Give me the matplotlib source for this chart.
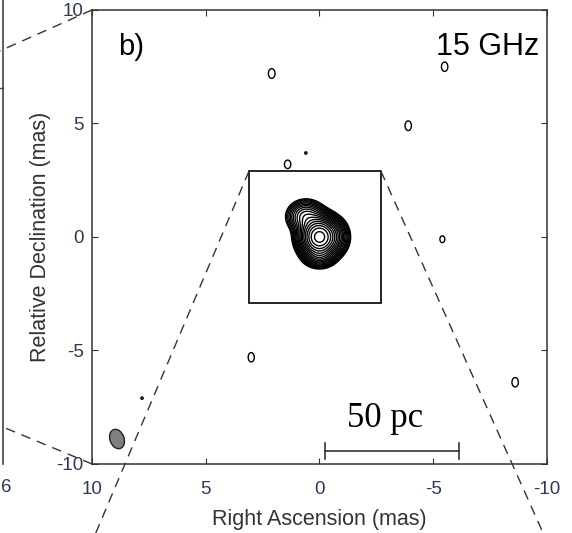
import numpy as np
import matplotlib
matplotlib.use("Agg")
from matplotlib import pyplot as plt
from matplotlib.patches import Ellipse, Rectangle
from matplotlib.lines import Line2D

# gaussian components of the 15 GHz map: x (mas), y (mas), peak, sigma_x, sigma_y
comp_x = [0.0, 0.6, 0.0, -0.75, 2.1, -5.5, -3.9, 1.4, 0.6, -5.4, 3.0, -8.6, 7.8]
comp_y = [0.0, 0.9, -0.85, 0.0, 7.2, 7.5, 4.9, 3.2, 3.7, -0.1, -5.3, -6.4, -7.1]
comp_amp = [100, 12, 8, 6, 1.25, 1.25, 1.25, 1.25, 1.1, 1.2, 1.25, 1.25, 1.1]
comp_sx = [0.40, 0.40, 0.35, 0.30, 0.22, 0.21, 0.21, 0.21, 0.12, 0.18, 0.20, 0.21, 0.12]
comp_sy = [0.42, 0.35, 0.25, 0.40, 0.32, 0.31, 0.32, 0.28, 0.12, 0.25, 0.31, 0.31, 0.12]

# contour levels: lowest level times powers of 1.3
lowest = 1.0
level_step = 1.3
n_levels = 18

# beam and scale bar
beam = (8.9, -8.9, 0.62, 0.88, -20)
bar_x = [-0.25, -6.15]
bar_y = -9.43
bar_label = "50 pc"

# zoom box (region shown in the next panel)
box_x = [3.1, -2.7]
box_y = [-2.9, 2.9]

plt.rcParams['font.family'] = ['Liberation Sans', 'DejaVu Sans']
plt.rcParams['axes.unicode_minus'] = False

fig = plt.figure(figsize=(5.72, 5.33), dpi=100)
ax = fig.add_axes([0.1608, 0.1295, 0.7955, 0.8518])

gx = np.linspace(-10, 10, 800)
gy = np.linspace(-10, 10, 800)
X, Y = np.meshgrid(gx, gy)
Z = np.zeros_like(X)
for cx, cy, a, sx, sy in zip(comp_x, comp_y, comp_amp, comp_sx, comp_sy):
    Z += a * np.exp(-((X - cx) ** 2) / (2 * sx ** 2) - ((Y - cy) ** 2) / (2 * sy ** 2))

levels = lowest * level_step ** np.arange(n_levels)
ax.contour(X, Y, Z, levels=levels, colors='black', linewidths=1.0)

ax.add_patch(Ellipse((beam[0], beam[1]), beam[2], beam[3], angle=beam[4],
                     facecolor='#808080', edgecolor='#222222', lw=1))

ax.plot(bar_x, [bar_y, bar_y], color='#333333', lw=1.2)
for bx in bar_x:
    ax.plot([bx, bx], [bar_y - 0.35, bar_y + 0.35], color='#333333', lw=1.2)
ax.text(-2.9, bar_y + 0.7, bar_label, ha='center', va='bottom',
        fontsize=25, family=['Liberation Serif'])

ax.add_patch(Rectangle((box_x[1], box_y[0]), box_x[0] - box_x[1], box_y[1] - box_y[0],
                       fill=False, edgecolor='black', lw=1.2))

# dashed lines from the box down to the next panel
ax.plot([box_x[0], 9.9], [box_y[1], -13.2], ls=(0, (7, 5)), color='#333333', lw=1, clip_on=False)
ax.plot([box_x[1], -9.9], [box_y[1], -13.2], ls=(0, (7, 5)), color='#333333', lw=1, clip_on=False)

# dashed lines from the previous panel
ax.plot([0, -0.202], [1, 0.91], transform=ax.transAxes, ls=(0, (7, 5)),
        color='#333333', lw=1, clip_on=False)
ax.plot([0, -0.202], [0, 0.084], transform=ax.transAxes, ls=(0, (7, 5)),
        color='#333333', lw=1, clip_on=False)

# right edge of the previous panel
fig.add_artist(Line2D([2.5 / 572, 2.5 / 572], [1, 1 - 464 / 533], transform=fig.transFigure,
                      color='#444444', lw=1.2))
fig.add_artist(Line2D([0, 2.5 / 572], [1 - 88 / 533, 1 - 88 / 533], transform=fig.transFigure,
                      color='#444444', lw=1))
fig.text(6 / 572, 1 - 488 / 533, "6", ha='center', va='center', fontsize=13.5, color='#2b3a55')

ax.text(0.057, 0.918, "b)", transform=ax.transAxes, fontsize=21, va='center', ha='left')
ax.text(0.982, 0.918, "15 GHz", transform=ax.transAxes, fontsize=22, va='center', ha='right')

ax.set_xlim(10, -10)
ax.set_ylim(-10, 10)
ax.set_xticks([10, 5, 0, -5, -10])
ax.set_yticks([-10, -5, 0, 5, 10])
ax.tick_params(direction='in', length=4, top=True, right=True, labelsize=13.5,
               labelcolor='#2b3a55', color='#333333', pad=6)
ax.tick_params(axis='x', pad=12)
for s in ax.spines.values():
    s.set_color('#333333')
    s.set_linewidth(1.1)
ax.set_xlabel("Right Ascension (mas)", fontsize=15.5, color='#333333', labelpad=8)
ax.set_ylabel("Relative Declination (mas)", fontsize=15.5, color='#333333', labelpad=4)

fig.savefig("out.png", dpi=100)
